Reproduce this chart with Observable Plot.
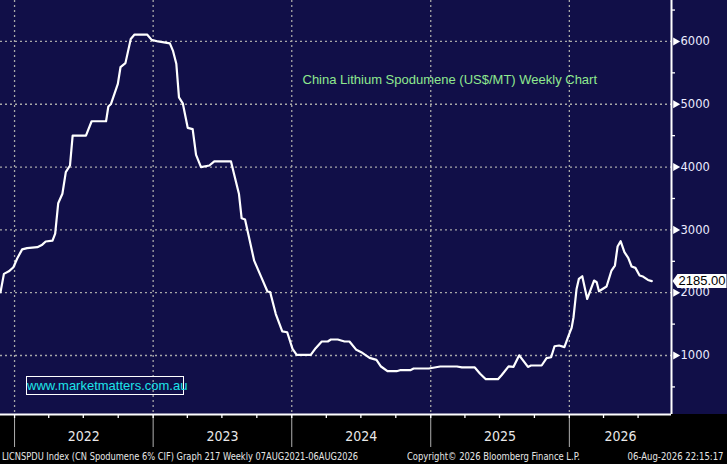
<!DOCTYPE html>
<html>
<head>
<meta charset="utf-8">
<script src="https://cdn.jsdelivr.net/npm/d3@7"></script>
<script src="https://cdn.jsdelivr.net/npm/@observablehq/plot@0.6"></script>
<style>
  html, body { margin: 0; padding: 0; background: #000; }
  #wrap { position: relative; width: 727px; height: 464px; overflow: hidden; }
  #footer { position: absolute; left: 0; top: 448px; width: 727px; height: 16px; background: #000; color: #e6e6e6;
    font-family: "DejaVu Sans Condensed", sans-serif; font-size: 10.5px; line-height: 16px; }
  #footer span { position: absolute; top: 0; white-space: nowrap; }
  #mm { position: absolute; left: 26px; top: 376px; width: 156px; height: 17px; border: 1px solid #fff;
    color: #1de4ea; font-family: "Liberation Sans", Arial, sans-serif; font-size: 13px; line-height: 17px; text-align: center; white-space: nowrap; }
</style>
</head>
<body>
<div id="wrap">
  <div id="chart"></div>
  <div id="mm">www.marketmatters.com.au</div>
  <div id="footer">
    <span data-w="356" style="left:2px; transform-origin: left center">LICNSPDU Index (CN Spodumene 6% CIF) Graph 217 Weekly 07AUG2021-06AUG2026</span>
    <span data-w="173" style="left:407px; transform-origin: left center">Copyright© 2026 Bloomberg Finance L.P.</span>
    <span data-w="96" style="right:3px; transform-origin: right center">06-Aug-2026 22:15:17</span>
  </div>
</div>
<script>
// ---- data ----
const dates = [
  "2021-11-25","2021-12-04","2021-12-17","2021-12-29","2022-01-08","2022-01-21","2022-02-03","2022-03-02",
  "2022-03-15","2022-03-24","2022-04-11","2022-04-18","2022-04-26","2022-05-07","2022-05-16","2022-05-27",
  "2022-06-03","2022-07-08","2022-07-23","2022-08-30","2022-09-05","2022-09-12","2022-09-30","2022-10-07",
  "2022-10-20","2022-11-03","2022-11-13","2022-12-16","2022-12-28",
  "2023-01-14","2023-02-14","2023-02-22","2023-03-03","2023-03-10","2023-03-20","2023-04-02","2023-04-15",
  "2023-04-24","2023-05-07","2023-05-29","2023-06-11","2023-07-25","2023-08-02","2023-08-15","2023-08-22",
  "2023-08-31","2023-09-24","2023-10-13","2023-10-29","2023-11-05","2023-11-20","2023-12-07","2023-12-20",
  "2024-01-03","2024-01-14","2024-02-20","2024-03-04","2024-03-20","2024-04-05","2024-04-13","2024-05-01",
  "2024-05-19","2024-06-01","2024-06-19","2024-07-02","2024-07-24","2024-08-11","2024-08-23","2024-09-09",
  "2024-10-03","2024-10-12","2024-11-08","2024-11-17","2024-12-27",
  "2025-01-26","2025-03-11","2025-03-24","2025-04-27","2025-05-11","2025-05-26","2025-06-27","2025-07-07",
  "2025-07-25","2025-08-07","2025-08-22","2025-09-14","2025-09-22","2025-10-20","2025-11-02","2025-11-14",
  "2025-11-23","2025-12-05","2025-12-19","2025-12-30",
  "2026-01-07","2026-01-12","2026-01-20","2026-01-26","2026-02-04","2026-02-17","2026-03-07","2026-03-14",
  "2026-03-20","2026-04-09","2026-04-22","2026-05-01","2026-05-08","2026-05-16","2026-05-26","2026-06-05",
  "2026-06-14","2026-06-24","2026-07-05","2026-07-14","2026-07-27","2026-08-06"
];
const values = [
  2008,2300,2340,2405,2545,2690,2710,2725,
  2765,2815,2830,2940,3425,3575,3920,4025,
  4500,4500,4730,4730,4965,5005,5325,5590,
  5655,6040,6110,6110,6025,
  6000,5970,5855,5645,5110,5015,4625,4605,
  4195,4000,4025,4090,4090,3890,3570,3185,
  3165,2510,2245,2020,2010,1660,1385,1370,
  1105,1010,1010,1117,1223,1223,1255,1255,
  1223,1223,1090,1053,962,930,825,750,
  750,766,766,793,793,
  825,825,810,810,710,623,623,690,
  828,820,1003,818,841,841,958,973,
  1148,1159,1133,1318,
  1440,1610,2060,2220,2262,1900,2194,2167,
  2024,2098,2353,2433,2735,2820,2645,2555,
  2417,2395,2273,2257,2203,2185
];
const yMajorTicks = [1000, 2000, 3000, 4000, 5000, 6000];
const yMinorTicks = [500, 1500, 2500, 3500, 4500, 5500, 6500];
const years = [2022, 2023, 2024, 2025, 2026];
const quarterTicks = [
  "2022-01-01","2022-04-01","2022-07-01","2022-10-01","2023-01-01","2023-04-01","2023-07-01","2023-10-01",
  "2024-01-01","2024-04-01","2024-07-01","2024-10-01","2025-01-01","2025-04-01","2025-07-01","2025-10-01",
  "2026-01-01","2026-04-01","2026-07-01"
];
const xDomain = [new Date("2021-11-25"), new Date("2026-09-27")];
const yDomain = [61, 6652];
const title = "China Lithium Spodumene (US$/MT) Weekly Chart";

// ---- derived tables ----
const data = dates.map((d, i) => ({date: new Date(d), value: values[i]}));
const last = data[data.length - 1];
const yearStarts = years.map(y => new Date(Date.UTC(y, 0, 1)));
const yearLabels = years.map(y => {
  const a = Math.max(+new Date(Date.UTC(y, 0, 1)), +xDomain[0]);
  const b = Math.min(+new Date(Date.UTC(y + 1, 0, 1)), +xDomain[1]);
  return {year: String(y), mid: new Date((a + b) / 2)};
});

const callout = {
  draw(ctx) {
    ctx.moveTo(0, 0); ctx.lineTo(5, -7); ctx.lineTo(54, -7); ctx.lineTo(54, 7); ctx.lineTo(5, 7); ctx.closePath();
  }
};

const navy = "#110f48";
const chart = Plot.plot({
  width: 727,
  height: 448,
  marginLeft: 0,
  marginRight: 56,
  marginTop: 0,
  marginBottom: 34,
  style: {
    background: `linear-gradient(to bottom, ${navy} 0px, ${navy} 414px, #000 414px, #000 448px)`,
    color: "white",
    overflow: "visible"
  },
  x: {type: "utc", domain: xDomain, label: null},
  y: {domain: yDomain, label: null},
  marks: [
    Plot.gridY(yMajorTicks, {stroke: "#a8a8a8", strokeOpacity: 1, strokeWidth: 1.3, strokeDasharray: "2,3"}),
    Plot.gridX(yearStarts, {stroke: "#a8a8a8", strokeOpacity: 1, strokeWidth: 1.3, strokeDasharray: "2,3"}),
    Plot.axisX(yearStarts, {anchor: "bottom", tickSize: 33, stroke: "#b0b0b0", tickFormat: () => "", label: null}),
    Plot.axisX(quarterTicks.map(d => new Date(d)), {anchor: "bottom", tickSize: 4, stroke: "white", strokeWidth: 1.3, tickFormat: () => "", label: null}),
    Plot.text(yearLabels, {x: "mid", text: "year", frameAnchor: "bottom", dy: 26, fill: "#e8e8e8",
      fontSize: 14, fontFamily: "'DejaVu Sans Condensed', sans-serif"}),
    Plot.axisY(yMinorTicks, {anchor: "right", tickSize: 3, stroke: "white", strokeWidth: 1.3, tickFormat: () => "", label: null}),
    Plot.axisY(yMajorTicks, {anchor: "right", tickSize: 0, tickPadding: 9, fill: "#ececff", tickFormat: d => String(d),
      fontSize: 11.5, fontFamily: "'DejaVu Sans', sans-serif", label: null}),
    Plot.dot(yMajorTicks, {y: d => d, frameAnchor: "right", symbol: "triangle", rotate: 90, r: 3, fill: "white", stroke: "none", dx: 4}),
    Plot.ruleY([yDomain[0]], {stroke: "white", strokeWidth: 2}),
    Plot.ruleX([xDomain[1]], {stroke: "white", strokeWidth: 2}),
    Plot.line(data, {x: "date", y: "value", stroke: "white", strokeWidth: 2.2, clip: true}),
    Plot.text([title], {frameAnchor: "top-left", dx: 302, dy: 74, textAnchor: "start", fill: "#8fe88f",
      fontSize: 13, fontFamily: "'Liberation Sans', Arial, sans-serif"}),
    Plot.dot([last], {y: "value", frameAnchor: "right", symbol: callout, fill: "white", stroke: "none", dx: 1}),
    Plot.text([last], {y: "value", frameAnchor: "right", text: d => d.value.toFixed(2), textAnchor: "start", dx: 7,
      fill: "black", fontSize: 13, fontFamily: "'Liberation Sans', Arial, sans-serif"})
  ]
});
document.getElementById("chart").appendChild(chart);

// fit footer strings to the widths seen in the reference
document.querySelectorAll("#footer span").forEach(s => {
  const w = s.getBoundingClientRect().width;
  const target = +s.dataset.w;
  if (w > 0) s.style.transform = `scaleX(${target / w})`;
});
</script>
</body>
</html>
